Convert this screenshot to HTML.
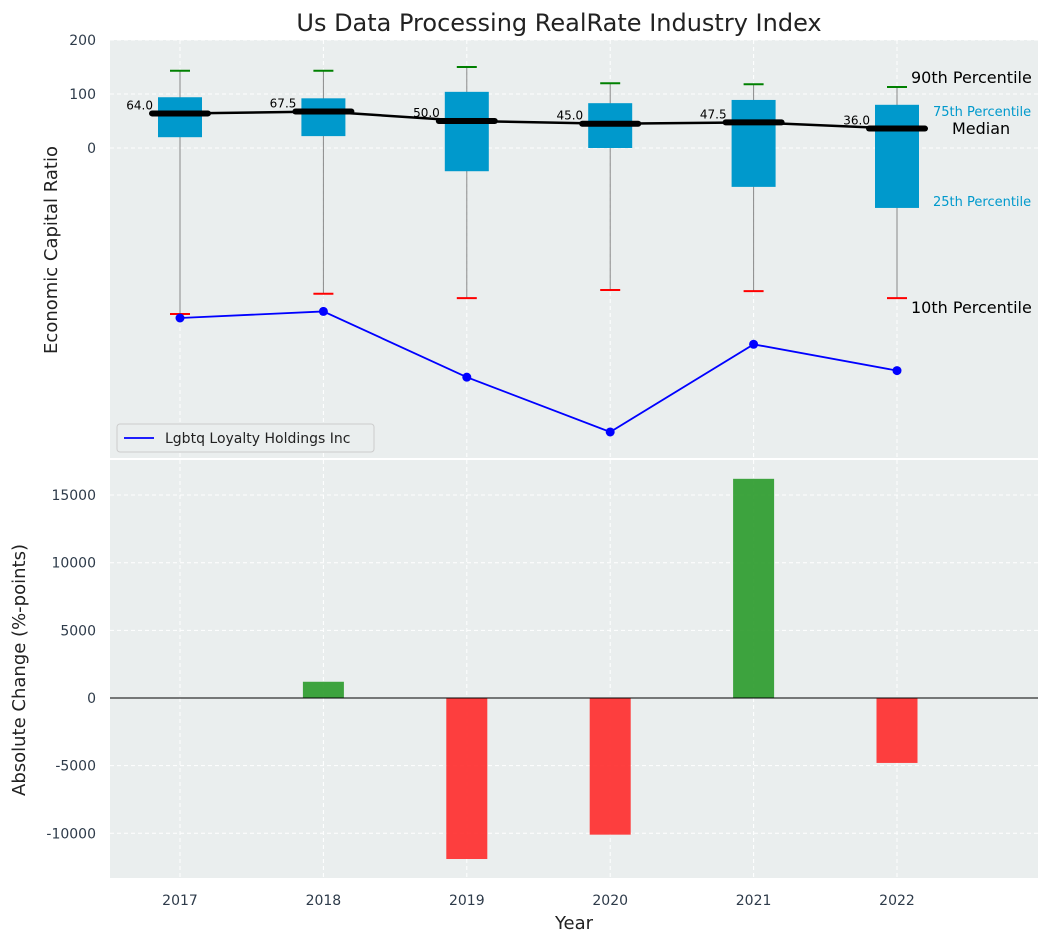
<!DOCTYPE html>
<html><head><meta charset="utf-8"><style>
body{margin:0;background:#fff;font-family:"Liberation Sans","DejaVu Sans",sans-serif}
</style></head><body>
<svg id="c" width="1048" height="942" xmlns="http://www.w3.org/2000/svg" font-family="DejaVu Sans, Liberation Sans, sans-serif"></svg>
<script>
const years=["2017","2018","2019","2020","2021","2022"];
const p10=[-1030,-270,-278,-263,-265,-278];
const p25=[20,22,-43,0,-72,-111];
const med=[64,67.5,50,45,47.5,36];
const p75=[94,92,104,83,89,80];
const p90=[143,143,150,120,118,113];
const company=[-1760,-560,-12560,-22560,-6560,-11360];
const changes=[0,1200,-11900,-10100,16200,-4800];
const topTicks=[200,100,0];
const botTicks=[15000,10000,5000,0,-5000,-10000];

const NS="http://www.w3.org/2000/svg";
const svg=document.getElementById('c');
function el(t,a,txt){const e=document.createElementNS(NS,t);for(const k in a)e.setAttribute(k,a[k]);if(txt!==undefined)e.textContent=txt;svg.appendChild(e);return e;}
const X=i=>180+i*143.4;
const yT=v=>v>=-300?148-0.54*v:310+(-300-v)*0.00548;
const yB=v=>698-v*0.01353;
const L=110,R=1038;

let e=el('text',{x:559,y:31,'text-anchor':'middle','font-size':24,fill:'#222'},'Us Data Processing RealRate Industry Index');


e=el('rect',{x:L,y:40,width:R-L,height:418,fill:'#eaeeee'});

e=el('rect',{x:L,y:460,width:R-L,height:418,fill:'#eaeeee'});


years.forEach((y,i)=>{
 el('line',{x1:X(i),x2:X(i),y1:40,y2:458,stroke:'#fff','stroke-dasharray':'4,3','stroke-width':1});
 el('line',{x1:X(i),x2:X(i),y1:460,y2:878,stroke:'#fff','stroke-dasharray':'4,3','stroke-width':1});
 e=el('text',{x:X(i),y:905,'text-anchor':'middle','font-size':14,fill:'#2e3b4a'},y);
 
});
topTicks.forEach(t=>{
 el('line',{x1:L,x2:R,y1:yT(t),y2:yT(t),stroke:'#fff','stroke-dasharray':'4,3'});
 e=el('text',{x:96,y:yT(t)+5,'text-anchor':'end','font-size':14,fill:'#2e3b4a'},t);
 
});
botTicks.forEach(t=>{
 el('line',{x1:L,x2:R,y1:yB(t),y2:yB(t),stroke:'#fff','stroke-dasharray':'4,3'});
 e=el('text',{x:96,y:yB(t)+5,'text-anchor':'end','font-size':14,fill:'#2e3b4a'},t);
 
});

years.forEach((y,i)=>{
 const x=X(i);
 el('line',{x1:x,x2:x,y1:yT(p90[i]),y2:yT(p10[i]),stroke:'#888','stroke-width':1});
 e=el('rect',{x:x-22,y:yT(p75[i]),width:44,height:yT(p25[i])-yT(p75[i]),fill:'#0099cc'});
 
 el('line',{x1:x-10,x2:x+10,y1:yT(p90[i]),y2:yT(p90[i]),stroke:'green','stroke-width':2});
 el('line',{x1:x-10,x2:x+10,y1:yT(p10[i]),y2:yT(p10[i]),stroke:'red','stroke-width':2});
 e=el('text',{x:x-27,y:yT(med[i])-4,'text-anchor':'end','font-size':12,fill:'#000'},med[i].toFixed(1));
 
});
let pts=years.map((y,i)=>X(i)+','+yT(med[i])).join(' ');
e=el('polyline',{points:pts,fill:'none',stroke:'#000','stroke-width':2.5});

years.forEach((y,i)=>{el('line',{x1:X(i)-28,x2:X(i)+28,y1:yT(med[i]),y2:yT(med[i]),stroke:'#000','stroke-width':6,'stroke-linecap':'round'});});

pts=years.map((y,i)=>X(i)+','+yT(company[i])).join(' ');
e=el('polyline',{points:pts,fill:'none',stroke:'#0000ff','stroke-width':1.8});

years.forEach((y,i)=>{e=el('circle',{cx:X(i),cy:yT(company[i]),r:4.5,fill:'#0000ff'});
 });

[['90th Percentile',911,83,16,'#000'],['75th Percentile',933,116,13,'#0099cc'],['Median',952,134,16,'#000'],['25th Percentile',933,206,13,'#0099cc'],['10th Percentile',911,313,16,'#000']].forEach(a=>{
 e=el('text',{x:a[1],y:a[2],'font-size':a[3],fill:a[4]},a[0]);
 
});

e=el('rect',{x:117,y:424,width:257,height:28,fill:'#eaeeee',stroke:'#ccc',rx:3});

el('line',{x1:124,x2:154,y1:438,y2:438,stroke:'#0000ff','stroke-width':1.8});
e=el('text',{x:165,y:443,'font-size':14,fill:'#222'},'Lgbtq Loyalty Holdings Inc');


years.forEach((y,i)=>{
 const v=changes[i];if(v===0)return;
 const y0=yB(Math.max(v,0)),h=Math.abs(yB(v)-yB(0));
 e=el('rect',{x:X(i)-20.5,y:y0,width:41,height:h,fill:v>0?'#2a9a2a':'#ff2a2a','fill-opacity':0.9});
 
});
el('line',{x1:L,x2:R,y1:yB(0),y2:yB(0),stroke:'#000','stroke-width':1});

e=el('text',{x:57,y:250,'text-anchor':'middle','font-size':18,fill:'#222',transform:'rotate(-90 57 250)'},'Economic Capital Ratio');

e=el('text',{x:25,y:670,'text-anchor':'middle','font-size':18,fill:'#222',transform:'rotate(-90 25 670)'},'Absolute Change (%-points)');

e=el('text',{x:574,y:929,'text-anchor':'middle','font-size':18,fill:'#222'},'Year');

</script>
</body></html>
